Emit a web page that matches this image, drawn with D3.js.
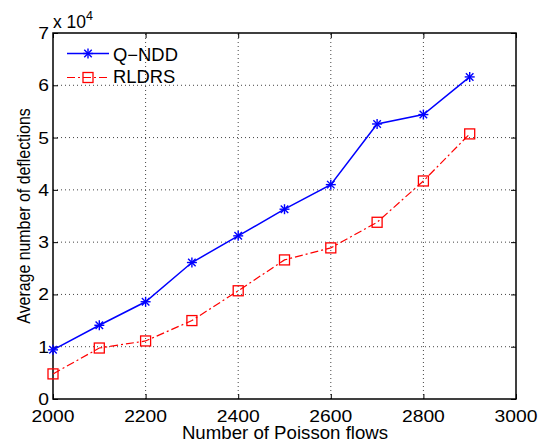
<!DOCTYPE html>
<html><head><meta charset="utf-8">
<script src="https://cdn.jsdelivr.net/npm/d3@7"></script>
<style>body{margin:0;background:#fff}svg{display:block}text{font-family:"Liberation Sans",Arial,sans-serif;fill:#000}</style>
</head><body><svg id="c" width="541" height="445"></svg>
<script>
const flows = [2000,2100,2200,2300,2400,2500,2600,2700,2800,2900];
const qndd = [0.94,1.41,1.86,2.61,3.12,3.63,4.10,5.26,5.44,6.16];
const rldrs = [0.48,0.975,1.11,1.50,2.07,2.66,2.89,3.38,4.17,5.07];
const xTicks = [2000,2200,2400,2600,2800,3000];
const yTicks = [0,1,2,3,4,5,6,7];
const seriesNames = ["Q\u2212NDD","RLDRS"];

const svg = d3.select("#c");
const L=53,R=516,T=33,B=399;
const x = d3.scaleLinear().domain([2000,3000]).range([L,R]);
const y = d3.scaleLinear().domain([0,7]).range([B,T]);

function stext(parent, tx, ty, str, size, sx, anchor, rot){
  const g = parent.append("g").attr("transform",`translate(${tx},${ty})${rot?` rotate(${rot})`:""} scale(${sx},1)`);
  return g.append("text").attr("font-size",size).attr("text-anchor",anchor||"start").text(str);
}

// grid
const g = svg.append("g");
g.selectAll(".gx").data(xTicks.slice(1,-1)).join("line")
 .attr("x1",d=>x(d)).attr("x2",d=>x(d)).attr("y1",B).attr("y2",T)
 .attr("stroke","#444").attr("stroke-width",1).attr("stroke-dasharray","1,3");
g.selectAll(".gy").data(yTicks.slice(1,-1)).join("line")
 .attr("y1",d=>y(d)).attr("y2",d=>y(d)).attr("x1",L).attr("x2",R)
 .attr("stroke","#444").attr("stroke-width",1).attr("stroke-dasharray","1,3");

// axes with inward ticks (labels drawn separately)
const axes = [
  svg.append("g").attr("transform",`translate(0,${B})`).call(d3.axisBottom(x).tickValues(xTicks).tickSize(-5).tickFormat("")),
  svg.append("g").attr("transform",`translate(0,${T})`).call(d3.axisTop(x).tickValues(xTicks).tickSize(-5).tickFormat("")),
  svg.append("g").attr("transform",`translate(${L},0)`).call(d3.axisLeft(y).tickValues(yTicks).tickSize(-5).tickFormat("")),
  svg.append("g").attr("transform",`translate(${R},0)`).call(d3.axisRight(y).tickValues(yTicks).tickSize(-5).tickFormat(""))
];
axes.forEach(a=>{ a.select(".domain").remove(); a.selectAll("line").attr("stroke","#000"); });
svg.append("rect").attr("x",L).attr("y",T).attr("width",R-L).attr("height",B-T)
 .attr("fill","none").attr("stroke","#000").attr("stroke-width",1.5);

// tick labels
xTicks.forEach(v=>stext(svg, x(v), 421.7, d3.format("d")(v), 16.5, 1.17, "middle"));
yTicks.forEach(v=>stext(svg, 49, y(v)+6, d3.format("d")(v), 16.5, 1.17, "end"));

// exponent
const ex = svg.append("text").attr("x",L).attr("y",28).attr("font-size",17.5);
ex.append("tspan").text("x 10");
ex.append("tspan").attr("font-size",12.5).attr("dy",-8).text("4");

// axis titles
stext(svg, 285, 439.3, "Number of Poisson flows", 17.6, 1.06, "middle");
stext(svg, 30, (T+B)/2, "Average number of deflections", 18.6, 0.855, "middle", -90);

// lines
const line = d3.line().x((d,i)=>x(flows[i])).y(d=>y(d));
svg.append("path").datum(qndd).attr("d",line).attr("fill","none").attr("stroke","#0000ff").attr("stroke-width",1.5);
svg.append("path").datum(rldrs).attr("d",line).attr("fill","none").attr("stroke","#ff0000").attr("stroke-width",1.2).attr("stroke-dasharray","8,3,2,3");

function star(sel,cx,cy,col){
  const r=5;
  const gg=sel.append("g").attr("stroke",col).attr("stroke-width",1.4);
  gg.append("line").attr("x1",cx-r).attr("x2",cx+r).attr("y1",cy).attr("y2",cy);
  gg.append("line").attr("x1",cx).attr("x2",cx).attr("y1",cy-r).attr("y2",cy+r);
  const d=r*0.75;
  gg.append("line").attr("x1",cx-d).attr("x2",cx+d).attr("y1",cy-d).attr("y2",cy+d);
  gg.append("line").attr("x1",cx-d).attr("x2",cx+d).attr("y1",cy+d).attr("y2",cy-d);
}
function square(sel,cx,cy,col){
  sel.append("rect").attr("x",cx-5).attr("y",cy-5).attr("width",10).attr("height",10)
   .attr("fill","none").attr("stroke",col).attr("stroke-width",1.3);
}
qndd.forEach((v,i)=>star(svg,x(flows[i]),y(v),"#0000ff"));
rldrs.forEach((v,i)=>square(svg,x(flows[i]),y(v),"#ff0000"));

// legend
const lg = svg.append("g");
lg.append("line").attr("x1",67).attr("x2",109).attr("y1",53.5).attr("y2",53.5).attr("stroke","#0000ff").attr("stroke-width",1.5);
star(lg,88,53.5,"#0000ff");
lg.append("line").attr("x1",67).attr("x2",109).attr("y1",77.5).attr("y2",77.5).attr("stroke","#ff0000").attr("stroke-width",1.2).attr("stroke-dasharray","8,3,2,3");
square(lg,88,77.5,"#ff0000");
stext(lg, 113, 61, seriesNames[0], 17.7, 1.04, "start");
stext(lg, 113, 83.3, seriesNames[1], 17.7, 1.04, "start");
</script></body></html>
